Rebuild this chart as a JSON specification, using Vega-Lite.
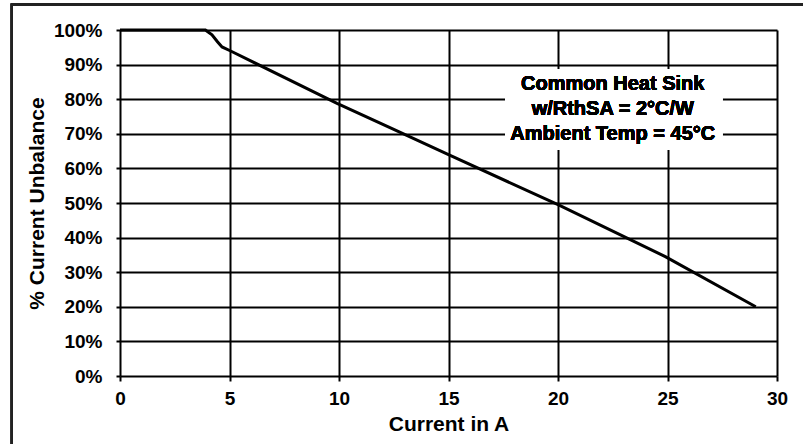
{
  "$schema": "https://vega.github.io/schema/vega-lite/v6.json",
  "autosize": {"type": "none"},
  "width": 657,
  "height": 346,
  "padding": {"left": 120, "top": 30, "right": 26, "bottom": 68},
  "background": "white",
  "config": {
    "view": {"stroke": null},
    "font": "Liberation Sans",
    "axis": {
      "labelFont": "Liberation Sans",
      "labelFontWeight": "bold",
      "labelFontSize": 19,
      "labelColor": "black",
      "labelOverlap": false,
      "labelBound": false,
      "titleFont": "Liberation Sans",
      "titleFontWeight": "bold",
      "titleFontSize": 21,
      "titleColor": "black",
      "grid": true,
      "gridColor": "black",
      "gridWidth": 2,
      "gridOpacity": 1,
      "tickColor": "black",
      "tickWidth": 2,
      "domain": false
    },
    "axisY": {"tickCount": 10}
  },
  "data": {
    "values": [
      {"current": 0, "unbalance": 100},
      {"current": 3.9, "unbalance": 100},
      {"current": 4.2, "unbalance": 98.6},
      {"current": 4.45, "unbalance": 96.6},
      {"current": 4.66, "unbalance": 95.1},
      {"current": 5.03, "unbalance": 94.0},
      {"current": 9.91, "unbalance": 78.8},
      {"current": 12.5, "unbalance": 71.3},
      {"current": 15, "unbalance": 64.0},
      {"current": 20, "unbalance": 49.5},
      {"current": 24.9, "unbalance": 34.5},
      {"current": 29.03, "unbalance": 20.0}
    ]
  },
  "layer": [
    {
      "mark": {"type": "rect", "fill": null, "stroke": "#222", "strokeWidth": 2, "clip": false},
      "encoding": {
        "x": {
          "datum": -4.94,
          "type": "quantitative",
          "scale": {"domain": [0, 30], "nice": false, "zero": false},
          "axis": {
            "title": "Current in A",
            "tickCount": 6,
            "tickSize": 5,
            "labelPadding": 8,
            "titlePadding": 5,
            "labelFlush": false
          }
        },
        "x2": {"datum": 33},
        "y": {
          "datum": 107.4,
          "type": "quantitative",
          "scale": {"domain": [0, 100], "nice": false},
          "axis": {
            "title": "% Current Unbalance",
            "tickCount": 10,
            "labelExpr": "datum.value + '%'",
            "tickSize": 4,
            "labelPadding": 14,
            "titlePadding": 6
          }
        },
        "y2": {"datum": -30}
      }
    },
    {
      "mark": {"type": "rect", "fill": "white", "stroke": null},
      "encoding": {
        "x": {"datum": 17.6, "type": "quantitative"},
        "x2": {"datum": 27.5},
        "y": {"datum": 88.6, "type": "quantitative"},
        "y2": {"datum": 65.3}
      }
    },
    {
      "mark": {"type": "line", "color": "black", "strokeWidth": 3},
      "encoding": {
        "x": {
          "field": "current",
          "type": "quantitative",
          "title": "Current in A"
        },
        "y": {
          "field": "unbalance",
          "type": "quantitative",
          "title": "% Current Unbalance"
        }
      }
    },
    {
      "mark": {
        "type": "text",
        "font": "Liberation Sans",
        "fontWeight": "bold",
        "fontSize": 20,
        "lineHeight": 25,
        "align": "center",
        "baseline": "middle",
        "color": "black"
      },
      "encoding": {
        "x": {"datum": 22.5, "type": "quantitative"},
        "y": {"datum": 84.4, "type": "quantitative"},
        "text": {"value": ["Common Heat Sink", "w/RthSA = 2°C/W", "Ambient Temp = 45°C"]}
      }
    }
  ]
}
